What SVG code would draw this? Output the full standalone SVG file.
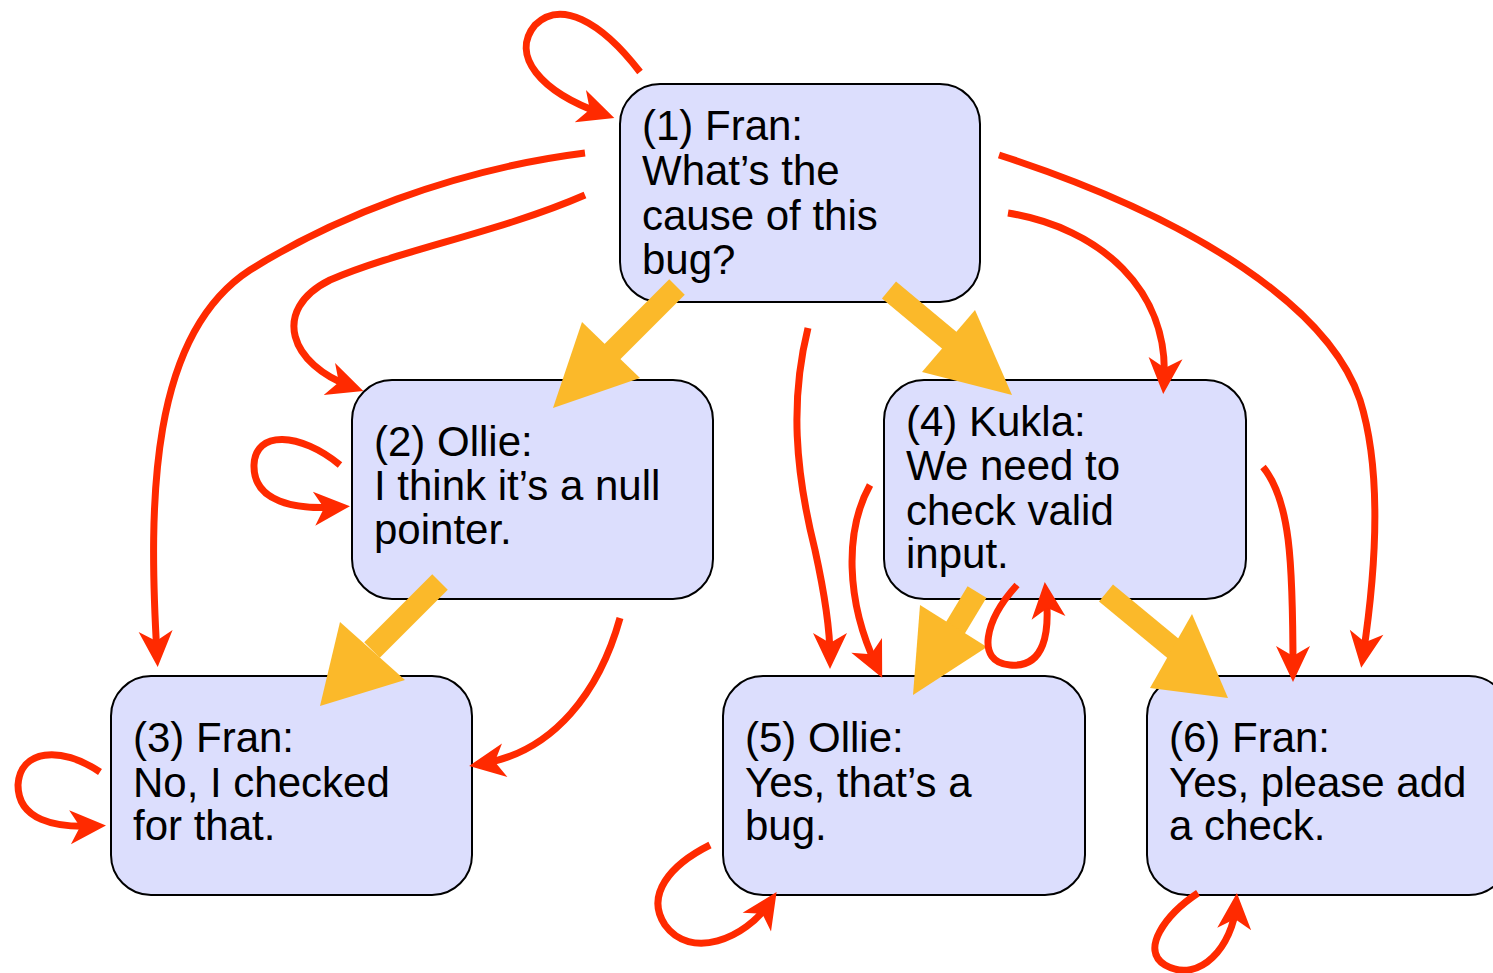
<svg xmlns="http://www.w3.org/2000/svg" width="1493" height="973" viewBox="0 0 1493 973">
  <style>
    .box { fill: #dcdefd; stroke: #000; stroke-width: 2; }
    .lbl { font-family: "Liberation Sans", Arial, sans-serif; font-size: 42px; fill: #000; }
    .red { fill: none; stroke: #ff2a00; stroke-width: 7; marker-end: url(#redHead); }
    .shaft { stroke: #fbb92a; stroke-width: 22; fill: none; }
    .head { fill: #fbb92a; }
  </style>
  <defs>
    <marker id="redHead" markerUnits="userSpaceOnUse" markerWidth="60" markerHeight="60" viewBox="-40 -30 60 60" refX="0" refY="0" orient="auto">
      <path d="M12,0 L-24,-17 L-14,0 L-24,17 Z" fill="#ff2a00"/>
    </marker>
  </defs>

  <rect width="1493" height="973" fill="#fff"/>

  <g id="node1">
    <rect class="box" x="620" y="84" width="360" height="218" rx="40"/>
    <text class="lbl" x="642" y="140">(1) Fran:</text>
    <text class="lbl" x="642" y="185">What’s the</text>
    <text class="lbl" x="642" y="230">cause of this</text>
    <text class="lbl" x="642" y="274">bug?</text>
  </g>
  <g id="node2">
    <rect class="box" x="352" y="380" width="361" height="219" rx="40"/>
    <text class="lbl" x="374" y="456">(2) Ollie:</text>
    <text class="lbl" x="374" y="500">I think it’s a null</text>
    <text class="lbl" x="374" y="544">pointer.</text>
  </g>
  <g id="node3">
    <rect class="box" x="111" y="676" width="361" height="219" rx="40"/>
    <text class="lbl" x="133" y="752">(3) Fran:</text>
    <text class="lbl" x="133" y="797">No, I checked</text>
    <text class="lbl" x="133" y="840">for that.</text>
  </g>
  <g id="node4">
    <rect class="box" x="884" y="380" width="362" height="219" rx="40"/>
    <text class="lbl" x="906" y="436">(4) Kukla:</text>
    <text class="lbl" x="906" y="480">We need to</text>
    <text class="lbl" x="906" y="525">check valid</text>
    <text class="lbl" x="906" y="568">input.</text>
  </g>
  <g id="node5">
    <rect class="box" x="723" y="676" width="362" height="219" rx="40"/>
    <text class="lbl" x="745" y="752">(5) Ollie:</text>
    <text class="lbl" x="745" y="797">Yes, that’s a</text>
    <text class="lbl" x="745" y="840">bug.</text>
  </g>
  <g id="node6">
    <rect class="box" x="1147" y="676" width="362" height="219" rx="40"/>
    <text class="lbl" x="1169" y="752">(6) Fran:</text>
    <text class="lbl" x="1169" y="797">Yes, please add</text>
    <text class="lbl" x="1169" y="840">a check.</text>
  </g>

  <g id="connectors">
    <!-- thick yellow arrows -->
    <line class="shaft" x1="677" y1="287" x2="607" y2="357"/>
    <polygon class="head" points="582,322 640,378 553,408"/>
    <line class="shaft" x1="889" y1="290" x2="955" y2="345"/>
    <polygon class="head" points="975,310 922,372 1012,395"/>
    <line class="shaft" x1="440" y1="582" x2="372" y2="650"/>
    <polygon class="head" points="340,622 405,680 320,706"/>
    <line class="shaft" x1="977" y1="592" x2="945" y2="645"/>
    <polygon class="head" points="920,605 987,647 913,695"/>
    <line class="shaft" x1="1106" y1="593" x2="1175" y2="650"/>
    <polygon class="head" points="1192,614 1150,688 1228,698"/>

    <!-- red reply links -->
    <path class="red" d="M640,72 C600,20 560,0 535,25 C510,55 540,92 603,114"/>
    <path class="red" d="M585,153 C450,170 330,220 250,270 C150,335 148,500 157,655"/>
    <path class="red" d="M585,195 C500,232 400,250 330,280 C270,310 290,365 352,387"/>
    <path class="red" d="M1008,213 C1100,228 1170,290 1164,382"/>
    <path class="red" d="M999,155 C1200,220 1330,310 1360,400 C1382,470 1376,570 1363,656"/>
    <path class="red" d="M340,465 C300,432 255,430 254,465 C253,502 295,510 338,507"/>
    <path class="red" d="M620,618 C600,690 555,752 481,764"/>
    <path class="red" d="M808,328 C790,400 795,470 815,550 C826,600 830,635 830,657"/>
    <path class="red" d="M870,485 C845,530 845,600 877,667"/>
    <path class="red" d="M1017,585 C985,620 975,662 1010,665 C1045,668 1050,632 1046,594"/>
    <path class="red" d="M1263,467 C1290,500 1293,560 1293,670"/>
    <path class="red" d="M100,772 C60,745 20,750 18,785 C18,820 55,828 94,826"/>
    <path class="red" d="M710,845 C670,865 645,895 665,925 C690,960 745,940 770,902"/>
    <path class="red" d="M1198,893 C1165,915 1140,950 1165,965 C1200,985 1233,945 1236,905"/>
  </g>
</svg>
